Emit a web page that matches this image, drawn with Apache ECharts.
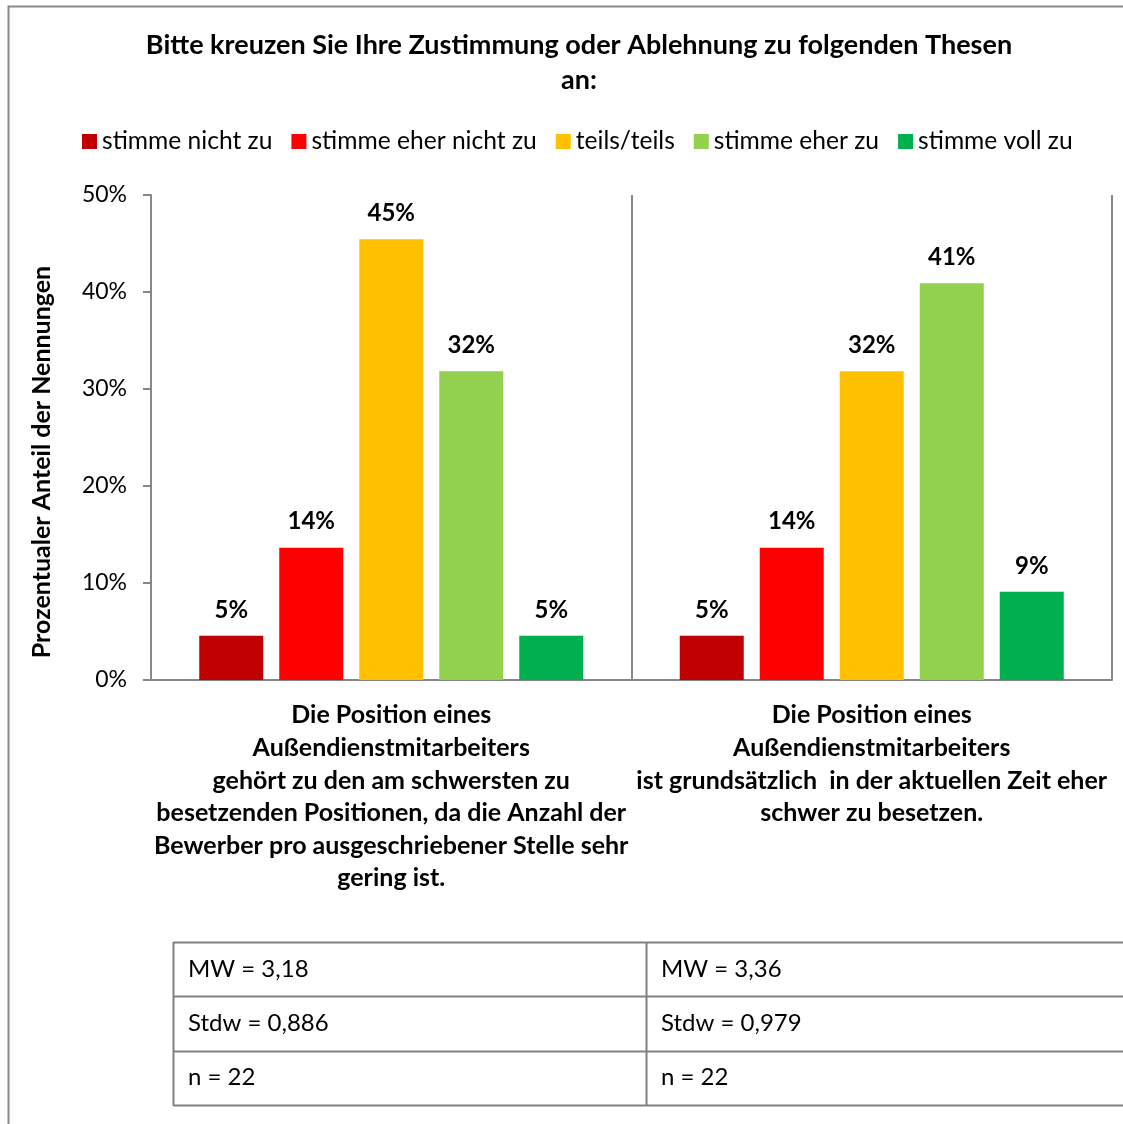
<!DOCTYPE html>
<html>
<head>
<meta charset="utf-8">
<script src="https://cdn.jsdelivr.net/npm/echarts@6/dist/echarts.min.js"></script>
<style>
  html, body { margin: 0; padding: 0; background: #fff; }
  #chart { width: 1123px; height: 1124px; }
</style>
</head>
<body>
<div id="chart"></div>
<script>
// Kategorien (Thesen)
const categories = [
  'Die Position eines\nAußendienstmitarbeiters\ngehört zu den am schwersten zu\nbesetzenden Positionen, da die Anzahl der\nBewerber pro ausgeschriebener Stelle sehr\ngering ist.',
  'Die Position eines\nAußendienstmitarbeiters\nist grundsätzlich  in der aktuellen Zeit eher\nschwer zu besetzen.'
];
const seriesNames = ['stimme nicht zu', 'stimme eher nicht zu', 'teils/teils', 'stimme eher zu', 'stimme voll zu'];
const seriesColors = ['#C00000', '#FF0000', '#FFC000', '#92D050', '#00B050'];
// Prozentwerte je Antwort, [These 1, These 2]
const nichtZu = [4.55, 4.55];
const eherNichtZu = [13.64, 13.64];
const teilsTeils = [45.45, 31.82];
const eherZu = [31.82, 40.91];
const vollZu = [4.55, 9.09];
const yTicks = [0, 10, 20, 30, 40, 50];
// Kennwerte-Tabelle
const statsLeft = ['MW = 3,18', 'Stdw = 0,886', 'n = 22'];
const statsRight = ['MW = 3,36', 'Stdw = 0,979', 'n = 22'];

const FONT = 'Lato';
const values = [nichtZu, eherNichtZu, teilsTeils, eherZu, vollZu];

const chart = echarts.init(document.getElementById('chart'));

// Tabelle unten
const tableTop = 942, rowH = 54.3, tableLeft = 173.5, colX = 646.5;
const tableGraphics = [];
for (let i = 0; i <= statsLeft.length; i++) {
  const y = Math.round(tableTop + i * rowH) + 0.5;
  tableGraphics.push({ type: 'line', shape: { x1: tableLeft, y1: y, x2: 1130, y2: y }, style: { stroke: '#808080', lineWidth: 2 } });
}
tableGraphics.push({ type: 'line', shape: { x1: tableLeft, y1: tableTop, x2: tableLeft, y2: tableTop + 3 * rowH + 1 }, style: { stroke: '#808080', lineWidth: 2 } });
tableGraphics.push({ type: 'line', shape: { x1: colX, y1: tableTop, x2: colX, y2: tableTop + 3 * rowH + 1 }, style: { stroke: '#808080', lineWidth: 2 } });
statsLeft.forEach((t, i) => {
  tableGraphics.push({ type: 'text', x: 188, y: tableTop + i * rowH + rowH / 2,
    style: { text: t, font: '24px ' + FONT, fill: '#000', textVerticalAlign: 'middle' } });
});
statsRight.forEach((t, i) => {
  tableGraphics.push({ type: 'text', x: 661, y: tableTop + i * rowH + rowH / 2,
    style: { text: t, font: '24px ' + FONT, fill: '#000', textVerticalAlign: 'middle' } });
});

const option = {
  backgroundColor: '#fff',
  animation: false,
  textStyle: { fontFamily: FONT },
  title: {
    text: 'Bitte kreuzen Sie Ihre Zustimmung oder Ablehnung zu folgenden Thesen\nan:',
    left: 574,
    textAlign: 'center',
    top: 23,
    textStyle: { fontFamily: FONT, fontSize: 27, fontWeight: 'bold', color: '#000', lineHeight: 35 }
  },
  legend: {
    data: seriesNames,
    left: 77,
    top: 124,
    itemWidth: 15,
    itemHeight: 15,
    itemGap: 19,
    icon: 'rect',
    textStyle: { fontFamily: FONT, fontSize: 24.6, color: '#000', padding: [0, 0, 0, 0] }
  },
  grid: { left: 151, right: 11, top: 195, bottom: 444 },
  xAxis: {
    type: 'category',
    data: categories,
    axisLine: { lineStyle: { color: '#888', width: 2 } },
    axisTick: { show: false },
    splitLine: { show: true, lineStyle: { color: '#888', width: 2 } },
    axisLabel: {
      interval: 0, margin: 19, fontFamily: FONT, fontSize: 25, fontWeight: 'bold',
      color: '#000', lineHeight: 32.6
    }
  },
  yAxis: {
    type: 'value',
    min: 0, max: 50, interval: 10,
    axisLine: { show: true, lineStyle: { color: '#888', width: 2 } },
    axisTick: { show: true, length: 8, lineStyle: { color: '#888', width: 2 } },
    splitLine: { show: false },
    axisLabel: { margin: 24, fontFamily: FONT, fontSize: 23, color: '#000',
      formatter: v => (yTicks.indexOf(v) >= 0 ? v + '%' : '') }
  },
  graphic: [
    { type: 'rect', shape: { x: 8.5, y: 6.5, width: 1140, height: 1140 },
      style: { fill: 'none', stroke: '#888', lineWidth: 2 }, silent: true },
    { type: 'text', x: 42, y: 462, rotation: Math.PI / 2,
      style: { text: 'Prozentualer Anteil der Nennungen', font: 'bold 25px ' + FONT, fill: '#000',
        textAlign: 'center', textVerticalAlign: 'middle' } }
  ].concat(tableGraphics),
  series: seriesNames.map((name, i) => ({
    name: name,
    type: 'bar',
    data: values[i],
    barWidth: 64,
    barGap: '25%',
    itemStyle: { color: seriesColors[i] },
    label: {
      show: true, position: 'top', distance: 14,
      fontFamily: FONT, fontSize: 24, fontWeight: 'bold', color: '#000',
      formatter: p => Math.round(p.value) + '%'
    }
  }))
};

chart.setOption(option);
</script>
</body>
</html>
